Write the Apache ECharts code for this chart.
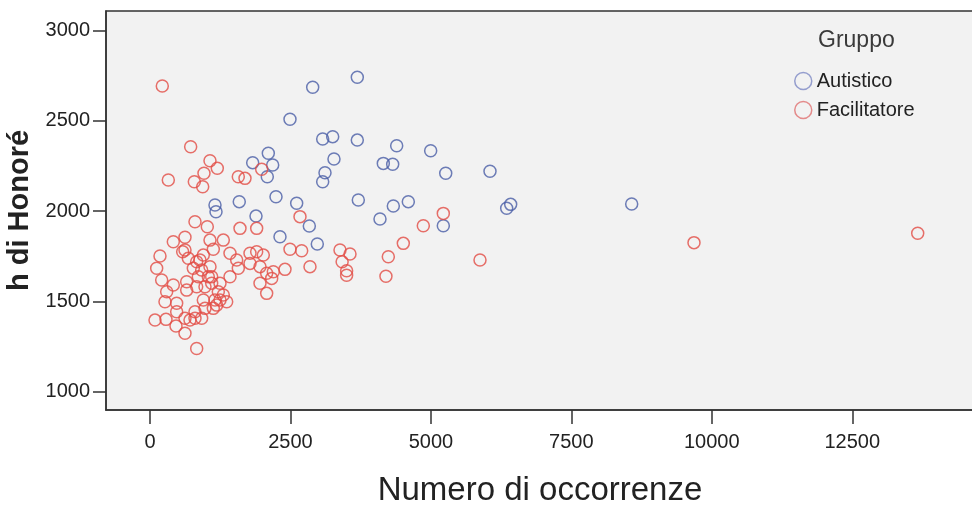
<!DOCTYPE html>
<html>
<head>
<meta charset="utf-8">
<script src="https://cdn.jsdelivr.net/npm/echarts@6/dist/echarts.min.js"></script>
<style>
  html, body { margin: 0; padding: 0; background: #ffffff; }
  #chart { width: 972px; height: 506px; }
</style>
</head>
<body>
<div id="chart"></div>
<script>
// Group names shown in the legend
const groups = ['Autistico', 'Facilitatore'];

// Tick values on each axis
const xTicks = [0, 2500, 5000, 7500, 10000, 12500];
const yTicks = [1000, 1500, 2000, 2500, 3000];

// [Numero di occorrenze, h di Honoré] for the "Autistico" group
const autistico = [
  [3690, 2742], [2896, 2687], [2492, 2509], [3074, 2400], [3252, 2413],
  [3690, 2394], [4391, 2363], [4996, 2335], [3275, 2289], [4153, 2265],
  [4320, 2260], [5264, 2210], [6052, 2221], [3115, 2213], [3074, 2163],
  [3708, 2062], [4331, 2029], [4598, 2053], [6349, 2016], [6420, 2038],
  [8574, 2040], [4094, 1957], [5221, 1920], [2836, 1918], [2978, 1818],
  [2106, 2321], [1828, 2269], [2184, 2256], [2088, 2191], [1157, 2034],
  [1175, 1997], [1589, 2053], [2243, 2080], [2611, 2044], [1887, 1973],
  [2314, 1859]
];

// [Numero di occorrenze, h di Honoré] for the "Facilitatore" group
const facilitatore = [
  [219, 2694], [724, 2357], [1068, 2280], [1198, 2238], [961, 2210],
  [326, 2173], [789, 2163], [938, 2136], [1572, 2191], [1691, 2182],
  [1988, 2232], [2670, 1970], [801, 1942], [1020, 1914], [1602, 1905],
  [1899, 1905], [415, 1831], [623, 1856], [1068, 1840], [1305, 1840],
  [1127, 1789], [2492, 1789], [2700, 1781], [5221, 1988], [4865, 1920],
  [4509, 1822], [5874, 1730], [9683, 1826], [13665, 1878], [3382, 1785],
  [3560, 1763], [4242, 1748],
  [178, 1752], [119, 1684], [208, 1619], [415, 1591], [297, 1554],
  [267, 1499], [89, 1397], [285, 1401], [463, 1364], [623, 1407],
  [801, 1407], [623, 1324], [831, 1240], [623, 1785], [682, 1739],
  [890, 1730], [949, 1757], [771, 1684], [920, 1674], [1068, 1693],
  [860, 1637], [1038, 1637], [653, 1563], [831, 1582], [979, 1582],
  [1098, 1601], [1246, 1601], [1216, 1554], [1305, 1536], [1365, 1499],
  [1246, 1508], [1157, 1508], [1127, 1462], [1424, 1637], [949, 1508],
  [979, 1462], [801, 1443], [712, 1397], [920, 1407], [475, 1490],
  [475, 1443], [1424, 1767], [1543, 1730], [1780, 1767], [1899, 1776],
  [2017, 1757], [1572, 1684], [1780, 1711], [1958, 1693], [2077, 1656],
  [2166, 1628], [2195, 1665], [2403, 1678], [1958, 1601], [2077, 1545],
  [2848, 1693], [653, 1609], [1098, 1637], [1187, 1480], [582, 1776],
  [831, 1720], [3420, 1720], [3500, 1670], [3500, 1645], [4200, 1640]
];

const FONT = '"Liberation Sans", Arial, sans-serif';
const BLUE = '#4a5ea6';
const RED = '#e24c45';

const chart = echarts.init(document.getElementById('chart'), null, { renderer: 'canvas' });

function ringSeries(name, data, color) {
  return {
    name: name,
    type: 'scatter',
    data: data,
    symbol: 'circle',
    symbolSize: 12,
    itemStyle: { color: 'rgba(0,0,0,0)', borderColor: color, borderWidth: 1.5 },
    emphasis: { disabled: true }
  };
}

const plainNumber = function (v) { return String(v); };

chart.setOption({
  animation: false,
  backgroundColor: '#ffffff',
  textStyle: { fontFamily: FONT },
  grid: {
    left: 106, top: 11, right: -2, bottom: 96,
    outerBoundsMode: 'none',
    containLabel: false,
    show: true,
    backgroundColor: '#f2f2f2',
    borderColor: '#333333',
    borderWidth: 1.5
  },
  graphic: [{
    type: 'text',
    left: 818, top: 29,
    style: { text: 'Gruppo', fontSize: 23, fontFamily: FONT, fill: '#3a3a3a' }
  }],
  legend: {
    orient: 'vertical',
    left: 794, top: 71,
    padding: 0,
    itemWidth: 17, itemHeight: 17, itemGap: 9,
    icon: 'circle',
    textStyle: { fontSize: 20, color: '#222222', fontFamily: FONT },
    data: [
      { name: groups[0], itemStyle: { color: 'rgba(0,0,0,0)', borderColor: '#7d88c4', borderWidth: 1.5 } },
      { name: groups[1], itemStyle: { color: 'rgba(0,0,0,0)', borderColor: '#e07070', borderWidth: 1.5 } }
    ]
  },
  xAxis: {
    type: 'value',
    min: -783, max: 14667,
    name: 'Numero di occorrenze',
    nameLocation: 'middle',
    nameGap: 64,
    nameTextStyle: { fontSize: 33, color: '#222222', fontFamily: FONT },
    axisLine: { show: true, onZero: false, lineStyle: { color: '#333333', width: 1.5 } },
    axisTick: { show: true, length: 14, customValues: xTicks, lineStyle: { color: '#333333', width: 1.5 } },
    axisLabel: { customValues: xTicks, formatter: plainNumber, fontSize: 20, color: '#222222', margin: 22, fontFamily: FONT },
    splitLine: { show: false }
  },
  yAxis: {
    type: 'value',
    min: 899, max: 3109,
    name: 'h di Honoré',
    nameLocation: 'middle',
    nameGap: 70,
    nameTextStyle: { fontSize: 29, fontWeight: 'bold', color: '#222222', fontFamily: FONT },
    axisLine: { show: true, onZero: false, lineStyle: { color: '#333333', width: 1.5 } },
    axisTick: { show: true, length: 13, customValues: yTicks, lineStyle: { color: '#333333', width: 1.5 } },
    axisLabel: { customValues: yTicks, formatter: plainNumber, fontSize: 20, color: '#222222', margin: 16, fontFamily: FONT },
    splitLine: { show: false }
  },
  series: [
    ringSeries(groups[0], autistico, BLUE),
    ringSeries(groups[1], facilitatore, RED)
  ]
});
</script>
</body>
</html>
